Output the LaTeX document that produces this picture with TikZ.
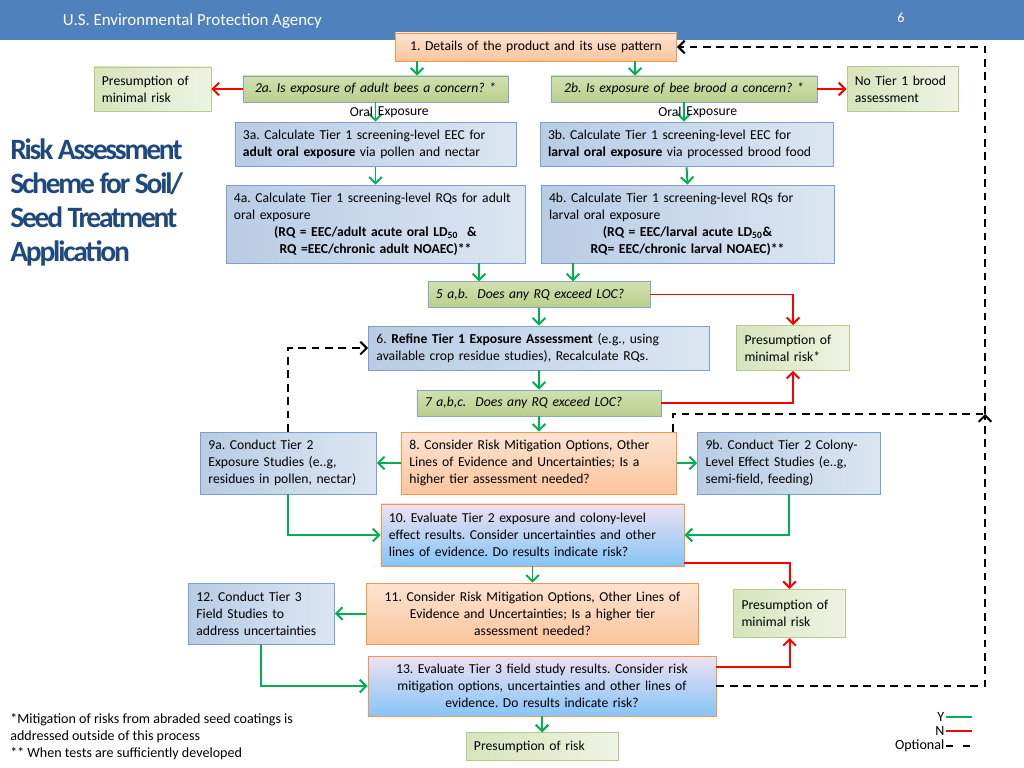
\documentclass[tikz,border=0pt]{standalone}
\usepackage{fontspec}
\setmainfont{Carlito}
\usepackage{xcolor}
\usepackage{tikz}
\usetikzlibrary{arrows.meta}
\frenchspacing

\definecolor{hdrblue}{HTML}{4F81BD}
\definecolor{titleblue}{HTML}{1F497D}
\definecolor{yesgreen}{HTML}{00B050}
\definecolor{nored}{HTML}{FF0000}
\definecolor{orgedge}{HTML}{F79646}
\definecolor{orgtop}{HTML}{FDE3D2}
\definecolor{orgbot}{HTML}{FAC59C}
\definecolor{bluedge}{HTML}{7F9FCF}
\definecolor{bluedark}{HTML}{B8CCE4}
\definecolor{bluelite}{HTML}{DCE6F2}
\definecolor{askedge}{HTML}{8AA5C0}
\definecolor{asktop}{HTML}{D2E1B0}
\definecolor{askbot}{HTML}{B9CF8D}
\definecolor{minedge}{HTML}{B5CC88}
\definecolor{mindark}{HTML}{D7E4BC}
\definecolor{minlite}{HTML}{EEF4E4}
\definecolor{evaltop}{HTML}{EDE0F2}
\definecolor{evalbot}{HTML}{86C5F6}

\begin{document}
\begin{tikzpicture}[x=0.025cm, y=-0.025cm, >={Straight Barb[length=4.5pt,width=9pt]},
  font=\fontsize{9.7}{12}\selectfont,
  box/.style={draw, line width=0.6pt, inner xsep=0.2cm, inner ysep=1pt, align=left},
  orangebox/.style={box, draw=orgedge, top color=orgtop, bottom color=orgbot},
  bluebox/.style={box, draw=bluedge, left color=bluedark, right color=bluelite},
  askbox/.style={box, draw=askedge, top color=asktop, bottom color=askbot,
    font=\fontsize{9.7}{12}\selectfont\itshape},
  minbox/.style={box, draw=minedge, left color=mindark, right color=minlite},
  evalbox/.style={box, draw=orgedge, top color=evaltop, bottom color=evalbot},
  yes/.style={->, draw=yesgreen, line width=1.4pt},
  no/.style={->, draw=nored, line width=1.4pt},
  opt/.style={draw=black, line width=1.4pt, dash pattern=on 5.5pt off 4pt}]
\useasboundingbox (0,0) rectangle (1024,768);
%
% header
\fill[hdrblue] (0,0) rectangle (1024,40);
\node[anchor=west, text=white, font=\fontsize{12}{14}\selectfont] (agency) at (58,21) {U.S. Environmental Protection Agency};
\node[text=white, font=\fontsize{10}{12}\selectfont] (pageno) at (901,18) {6};
\node[anchor=north west, inner sep=0pt, align=left, text=titleblue,
  font=\fontsize{21}{24.3}\selectfont\bfseries\addfontfeatures{LetterSpace=-7.5}] (title) at (10,138)
  {Risk Assessment\\Scheme for Soil/\\Seed Treatment\\Application};
%
% tier 1
\node[orangebox, text width=6.625cm, minimum height=0.7cm, align=center] (n1) at (536,47) {1. Details of the product and its use pattern};
\node[askbox, text width=6.225cm, minimum height=0.65cm, align=center] (n2a) at (375.5,89) {2a. Is exposure of adult bees a concern? *};
\node[askbox, text width=6.25cm, minimum height=0.65cm, align=center, right of=n2a, node distance=7.71cm] (n2b) {2b. Is exposure of bee brood a concern? *};
\node[minbox, text width=2.525cm, minimum height=1.1cm, left of=n2a, node distance=5.575cm] (pm1) {Presumption of\\minimal risk};
\node[minbox, text width=2.375cm, minimum height=1.12cm, right of=n2b, node distance=5.46cm] (nt1) {No Tier 1 brood\\assessment};
\node[bluebox, text width=6.625cm, minimum height=1.12cm, below of=n2a, node distance=1.3875cm] (n3a) {3a. Calculate Tier 1 screening-level EEC for\\\textbf{adult oral exposure} via pollen and nectar};
\node[bluebox, text width=6.925cm, minimum height=1.12cm, right of=n3a, node distance=7.775cm] (n3b) {3b. Calculate Tier 1 screening-level EEC for\\\textbf{larval oral exposure} via processed brood food};
\node[bluebox, text width=7.075cm, minimum height=1.95cm, below of=n3a, node distance=1.9875cm] (n4a) {4a. Calculate Tier 1 screening-level RQs for adult\\oral exposure\par
  \centerline{\textbf{(RQ = EEC/adult acute oral LD\textsubscript{50}~~\&}}\centerline{\textbf{RQ =EEC/chronic adult NOAEC)**}}};
\node[bluebox, text width=6.925cm, minimum height=1.95cm, right of=n4a, node distance=7.8cm] (n4b) {4b. Calculate Tier 1 screening-level RQs for\\larval oral exposure\par
  \centerline{\textbf{(RQ = EEC/larval acute LD\textsubscript{50}\&}}\centerline{\textbf{RQ= EEC/chronic larval NOAEC)**}}};
\node[askbox, text width=5.15cm, minimum height=0.63cm] (n5) at (539,294.5) {5 a,b.~~Does any RQ exceed LOC?};
\node[bluebox, text width=8.125cm, minimum height=1.1cm, below of=n5, node distance=1.3375cm] (n6) {6. \textbf{Refine Tier 1 Exposure Assessment} (e.g., using\\available crop residue studies), Recalculate RQs.};
\node[minbox, text width=2.425cm, minimum height=1.12cm, right of=n6, node distance=6.35cm] (pm2) {Presumption of\\minimal risk*};
\node[askbox, text width=5.7cm, minimum height=0.65cm, below of=n6, node distance=1.375cm] (n7) {7 a,b,c.~~Does any RQ exceed LOC?};
%
% tier 2
\node[orangebox, text width=6.475cm, minimum height=1.55cm, below of=n7, node distance=1.5cm] (n8) {8. Consider Risk Mitigation Options, Other\\Lines of Evidence and Uncertainties; Is a\\higher tier assessment needed?};
\node[bluebox, text width=4.0cm, minimum height=1.55cm, left of=n8, node distance=6.2625cm] (n9a) {9a. Conduct Tier 2\\Exposure Studies (e..g,\\residues in pollen, nectar)};
\node[bluebox, text width=4.175cm, minimum height=1.55cm, right of=n8, node distance=6.25cm] (n9b) {9b. Conduct Tier 2 Colony-\\Level Effect Studies (e..g,\\semi-field, feeding)};
\node[evalbox, text width=7.175cm, minimum height=1.55cm] (n10) at (532.5,535) {10. Evaluate Tier 2 exposure and colony-level\\effect results. Consider uncertainties and other\\lines of evidence. Do results indicate risk?};
%
% tier 3
\node[orangebox, text width=7.9cm, minimum height=1.52cm, align=center, below of=n10, node distance=1.9625cm] (n11) {11. Consider Risk Mitigation Options, Other Lines of\\Evidence and Uncertainties; Is a higher tier\\assessment needed?};
\node[bluebox, text width=3.25cm, minimum height=1.52cm, left of=n11, node distance=6.775cm] (n12) {12. Conduct Tier 3\\Field Studies to\\address uncertainties};
\node[minbox, text width=2.4cm, minimum height=1.2cm, right of=n11, node distance=6.425cm] (pm3) {Presumption of\\minimal risk};
\node[evalbox, text width=8.3cm, minimum height=1.5cm, align=center] (n13) at (542,686) {13. Evaluate Tier 3 field study results. Consider risk\\mitigation options, uncertainties and other lines of\\evidence. Do results indicate risk?};
\node[minbox, text width=3.4cm, minimum height=0.68cm, below of=n13, node distance=1.5125cm] (pr) {Presumption of risk};
%
% notes and legend
\node[anchor=north west, inner sep=0pt, align=left, font=\fontsize{10}{12}\selectfont] (notes) at (10,713) {*Mitigation of risks from abraded seed coatings is\\addressed outside of this process\\** When tests are sufficiently developed};
\node[anchor=east, inner sep=1pt, font=\fontsize{10}{12}\selectfont] (ly) at (946,717) {Y};
\node[anchor=east, inner sep=1pt, font=\fontsize{10}{12}\selectfont] (ln) at (946,731) {N};
\node[anchor=east, inner sep=1pt, font=\fontsize{10}{12}\selectfont] (lo) at (946,746) {Optional};
\draw[draw=yesgreen, line width=1.4pt] (ly.east) -- ++(26,0);
\draw[draw=nored, line width=1.4pt] (ln.east) -- ++(26,0);
\draw[opt, dash pattern=on 5pt off 7pt] (lo.east) -- ++(26,0);
%
% yes paths
\draw[yes] ([xshift=-2.975cm]n1.south) -- ([xshift=-2.975cm]n1.south |- n2a.north);
\draw[yes] ([xshift=2.475cm]n1.south) -- ([xshift=2.475cm]n1.south |- n2b.north);
\draw[yes] (n2a.south) -- node[left, inner sep=1pt] {Oral} node[right, inner sep=1pt] {Exposure} (n2a.south |- n3a.north);
\draw[yes] (n2b.south) -- node[left, inner sep=1pt] {Oral} node[right, inner sep=1pt] {Exposure} (n2b.south |- n3b.north);
\draw[yes] (n3a.south) -- (n3a.south |- n4a.north);
\draw[yes] (n3b.south) -- (n4b.north);
\draw[yes] ([xshift=-1.5cm]n5.north |- n4a.south) -- ([xshift=-1.5cm]n5.north);
\draw[yes] ([xshift=0.85cm]n5.north |- n4b.south) -- ([xshift=0.85cm]n5.north);
\draw[yes] (n5) -- (n6);
\draw[yes] (n6) -- (n7);
\draw[yes] (n7) -- (n8);
\draw[yes] (n8) -- (n9a);
\draw[yes] (n8) -- (n9b);
\draw[yes] (n9a.south) |- (n10.west);
\draw[yes] (n9b.south) |- (n10.east);
\draw[yes] (n10.south) -- (n10.south |- n11.north);
\draw[yes] (n11) -- (n12);
\draw[yes] (n12.south) |- (n13.west);
\draw[yes] (n13) -- (pr);
%
% no paths
\draw[no] (n2a) -- (pm1);
\draw[no] (n2b) -- (nt1);
\draw[no] (n5.east) -| (pm2.north);
\draw[no] (n7.east) -| (pm2.south);
\draw[no] ([yshift=-0.7cm]n10.east) -| (pm3.north);
\draw[no] ([yshift=0.475cm]n13.east) -| (pm3.south);
%
% optional paths
\coordinate (jn) at (985,414);
\draw[opt, ->] (n13.east) -| (jn);
\draw[opt] ([xshift=3.3375cm]n8.north) |- (jn);
\draw[opt, ->] (jn) |- (n1.east);
\draw[opt, ->] (n9a.north) |- (n6.west);
\end{tikzpicture}
\end{document}
